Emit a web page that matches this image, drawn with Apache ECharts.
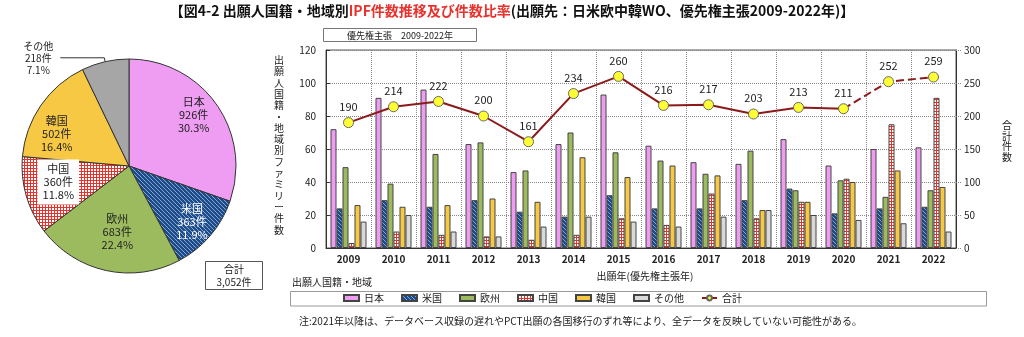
<!DOCTYPE html>
<html>
<head>
<meta charset="utf-8">
<script src="https://cdn.jsdelivr.net/npm/echarts@6/dist/echarts.min.js"></script>
<style>
html,body{margin:0;padding:0;background:#fff;}
#chart{width:1024px;height:337px;}
</style>
</head>
<body>
<div id="chart"></div>
<script>
// ---------- data ----------
const years = ['2009','2010','2011','2012','2013','2014','2015','2016','2017','2018','2019','2020','2021','2022'];
const japan  = [72, 91, 96, 63, 46, 63, 93, 62, 52, 51, 66, 50, 60, 61];
const usa    = [24, 29, 25, 29, 22, 19, 32, 24, 24, 29, 36, 21, 24, 25];
const europe = [49, 39, 57, 64, 47, 70, 58, 53, 45, 59, 35, 41, 31, 35];
const china  = [ 3, 10,  8,  7,  5,  8, 18, 14, 33, 18, 28, 42, 75, 91];
const korea  = [26, 25, 26, 30, 28, 55, 43, 50, 44, 23, 28, 40, 47, 37];
const others = [16, 20, 10,  7, 13, 19, 16, 13, 19, 23, 20, 17, 15, 10];
const totals = [190, 214, 222, 200, 161, 234, 260, 216, 217, 203, 213, 211, 252, 259];
const regionNames = ['日本', '米国', '欧州', '中国', '韓国', 'その他'];
const pieCounts = [926, 363, 683, 360, 502, 218];
const totalName = '合計';
const leftAxisMax = 120, leftAxisStep = 20;
const rightAxisMax = 300, rightAxisStep = 50;
const provisionalFromIndex = 11; // 2020 -> dashed afterwards

// ---------- styles ----------
const FF = '"Noto Sans CJK JP", "Noto Sans", sans-serif';
function makePattern(size, draw) {
  const c = document.createElement('canvas');
  c.width = size; c.height = size;
  const ctx = c.getContext('2d');
  draw(ctx, size);
  return { image: c, repeat: 'repeat' };
}
const usPattern = makePattern(4, (ctx, s) => {
  ctx.fillStyle = '#1E4A86'; ctx.fillRect(0, 0, s, s);
  ctx.strokeStyle = '#7FA6DA'; ctx.lineWidth = 1;
  ctx.beginPath(); ctx.moveTo(0, 0); ctx.lineTo(s, s); ctx.stroke();
  ctx.beginPath(); ctx.moveTo(-1, s - 1); ctx.lineTo(1, s + 1); ctx.stroke();
  ctx.beginPath(); ctx.moveTo(s - 1, -1); ctx.lineTo(s + 1, 1); ctx.stroke();
});
const cnPattern = makePattern(3, (ctx, s) => {
  ctx.fillStyle = '#ffffff'; ctx.fillRect(0, 0, s, s);
  ctx.fillStyle = '#E8312A';
  ctx.fillRect(0, 0, s, 1); ctx.fillRect(0, 0, 1, s);
});
const barColors = ['#EE9DF2', usPattern, '#9CBB5E', cnPattern, '#F6C844', '#D9D9D9'];
const pieColors = ['#EE9DF2', usPattern, '#9CBB5E', cnPattern, '#F6C844', '#A6A6A6'];
const pieLabelColors = ['#222', '#fff', '#222', '#222', '#222', '#222'];
const pieLabelNudge = [[-3, -3], [0, 2], [6, -15], [9, -7], [-4, 15], [0, 0]];
const barSeriesData = [japan, usa, europe, china, korea, others];

const pieTotal = pieCounts.reduce((a, b) => a + b, 0);
const pct = v => (v / pieTotal * 100).toFixed(1) + '%';

// ---------- series ----------
const series = [];
// main pie (only その他 label, outside)
series.push({
  type: 'pie', silent: true,
  center: [129, 166], radius: 107,
  startAngle: 90, clockwise: true,
  avoidLabelOverlap: false,
  itemStyle: { borderColor: '#333', borderWidth: 1 },
  data: regionNames.map((n, i) => ({
    name: n, value: pieCounts[i],
    itemStyle: { color: pieColors[i] },
    label: { show: i === 5 },
    labelLine: { show: i === 5 }
  })),
  label: {
    position: 'outside',
    formatter: p => '{a|' + p.name + '}\n{a|' + p.value + '件}\n{a|' + pct(p.value) + '}',
    rich: { a: { width: 34, align: 'center', fontSize: 10, lineHeight: 12, color: '#222', fontFamily: FF } }
  },
  labelLine: { length: 4, length2: 44, lineStyle: { color: '#333', width: 1 } }
});
// label overlay pie (transparent) for inside labels
series.push({
  type: 'pie', silent: true,
  center: [129, 166], radius: 160,
  startAngle: 90, clockwise: true,
  avoidLabelOverlap: false,
  itemStyle: { color: 'rgba(0,0,0,0)' },
  data: regionNames.map((n, i) => ({
    name: n, value: pieCounts[i],
    itemStyle: { color: 'rgba(0,0,0,0)', borderWidth: 0 },
    label: {
      show: i !== 5,
      color: pieLabelColors[i],
      offset: pieLabelNudge[i],
      backgroundColor: i === 3 ? '#fff' : 'transparent',
      padding: i === 3 ? [3, 5] : 0
    }
  })),
  label: {
    position: 'inside',
    formatter: p => p.name + '\n' + p.value + '件\n' + pct(p.value),
    fontSize: 11, lineHeight: 13, fontFamily: FF
  },
  labelLine: { show: false },
  z: 3
});
// bars
regionNames.forEach((n, i) => {
  series.push({
    name: n, type: 'bar',
    xAxisIndex: 0, yAxisIndex: 0,
    data: barSeriesData[i],
    barGap: '0%', barCategoryGap: '20%',
    itemStyle: { color: barColors[i], borderColor: '#444', borderWidth: 1 }
  });
});
// totals line
const lineCommon = {
  name: totalName, type: 'line', xAxisIndex: 0, yAxisIndex: 1,
  symbol: 'circle', symbolSize: 10, showAllSymbol: true,
  itemStyle: { color: '#FFFF33', borderColor: '#666', borderWidth: 1 },
  label: { show: true, position: 'top', distance: 5, fontSize: 11, color: '#222', fontFamily: FF },
  z: 5
};
series.push(Object.assign({}, lineCommon, {
  data: totals.map((v, i) => i <= provisionalFromIndex ? v : null),
  lineStyle: { color: '#8B1A1A', width: 2 }
}));
series.push(Object.assign({}, lineCommon, {
  data: totals.map((v, i) => i < provisionalFromIndex ? null :
    (i === provisionalFromIndex ? { value: v, symbol: 'none', label: { show: false } } : v)),
  lineStyle: { color: '#8B1A1A', width: 2, type: 'dashed' }
}));

const chart = echarts.init(document.getElementById('chart'), null, { renderer: 'canvas' });
chart.setOption({
  animation: false,
  textStyle: { fontFamily: FF },
  title: {
    text: '{a|【図4-2 出願人国籍・地域別}{b|IPF件数推移及び件数比率}{a|(出願先：日米欧中韓WO、優先権主張2009-2022年)】}',
    left: 'center', top: 4, padding: 0,
    textStyle: {
      rich: {
        a: { fontSize: 14, fontWeight: 'bold', color: '#111', fontFamily: FF },
        b: { fontSize: 14, fontWeight: 'bold', color: '#E8322D', fontFamily: FF }
      }
    }
  },
  legend: {
    left: 343, top: 293, padding: 0,
    itemWidth: 15, itemHeight: 6, itemGap: 17,
    textStyle: { fontSize: 10, color: '#222', width: 50, fontFamily: FF },
    data: regionNames.map(n => ({ name: n, icon: 'rect' })).concat([{ name: totalName }])
  },
  grid: {
    left: 326, right: 68, top: 50, bottom: 89,
    show: true, borderColor: '#555', borderWidth: 1, backgroundColor: 'transparent'
  },
  xAxis: {
    type: 'category', data: years, boundaryGap: true,
    axisLine: { lineStyle: { color: '#333', width: 1 } },
    axisTick: { show: false, interval: 0 },
    axisLabel: { interval: 0, fontSize: 10, fontWeight: 'bold', color: '#222', margin: 6, fontFamily: FF },
    splitLine: { show: true, interval: 0, lineStyle: { type: 'dotted', color: '#888', width: 1 } }
  },
  yAxis: [
    {
      type: 'value', min: 0, max: leftAxisMax, interval: leftAxisStep,
      axisLine: { show: true, lineStyle: { color: '#333' } },
      axisTick: { show: true, inside: true, length: 4, lineStyle: { color: '#333' } },
      axisLabel: { fontSize: 10, color: '#222', margin: 10, fontFamily: FF },
      splitLine: { show: true, lineStyle: { type: 'dotted', color: '#888', width: 1 } }
    },
    {
      type: 'value', min: 0, max: rightAxisMax, interval: rightAxisStep, position: 'right',
      axisLine: { show: true, lineStyle: { color: '#333' } },
      axisTick: { show: true, inside: false, length: 5, lineStyle: { color: '#888', type: 'dotted' } },
      axisLabel: { fontSize: 10, color: '#222', margin: 8, fontFamily: FF },
      splitLine: { show: false }
    }
  ],
  graphic: [
    { type: 'rect', z: -1, shape: { x: 323.5, y: 28.5, width: 153, height: 13 },
      style: { fill: '#fff', stroke: '#777', lineWidth: 1 } },
    { type: 'text', x: 400, y: 35.5,
      style: { text: '優先権主張　2009-2022年', fontSize: 9, fontFamily: FF, fill: '#222', align: 'center', verticalAlign: 'middle' } },
    { type: 'rect', z: -1, shape: { x: 205.5, y: 261.5, width: 57, height: 28 },
      style: { fill: '#fff', stroke: '#555', lineWidth: 1 } },
    { type: 'text', x: 234, y: 269.5,
      style: { text: '合計', fontSize: 10, fontFamily: FF, fill: '#222', align: 'center', verticalAlign: 'middle' } },
    { type: 'text', x: 234, y: 282.5,
      style: { text: pieTotal.toLocaleString('en-US') + '件', fontSize: 10, fontFamily: FF, fill: '#222', align: 'center', verticalAlign: 'middle' } },
    { type: 'text', x: 279, y: 145,
      style: { text: '出願人国籍・地域別ファミリー件数'.split('').join('\n'), fontSize: 10, lineHeight: 11.3, fontFamily: FF, fill: '#222', align: 'center', verticalAlign: 'middle' } },
    { type: 'text', x: 1007, y: 141,
      style: { text: '合計件数'.split('').join('\n'), fontSize: 10, lineHeight: 10.5, fontFamily: FF, fill: '#222', align: 'center', verticalAlign: 'middle' } },
    { type: 'text', x: 645, y: 276.5,
      style: { text: '出願年(優先権主張年)', fontSize: 10, fontFamily: FF, fill: '#222', align: 'center', verticalAlign: 'middle' } },
    { type: 'text', x: 292, y: 282.5,
      style: { text: '出願人国籍・地域', fontSize: 10, fontFamily: FF, fill: '#222', align: 'left', verticalAlign: 'middle' } },
    { type: 'rect', z: -1, shape: { x: 290.5, y: 291.5, width: 696, height: 14.5 },
      style: { fill: '#fff', stroke: '#999', lineWidth: 1 } },
    { type: 'text', x: 299, y: 321.5,
      style: { text: '注:2021年以降は、データベース収録の遅れやPCT出願の各国移行のずれ等により、全データを反映していない可能性がある。', fontSize: 10, fontFamily: FF, fill: '#222', align: 'left', verticalAlign: 'middle' } }
  ],
  series: series
});
</script>
</body>
</html>
